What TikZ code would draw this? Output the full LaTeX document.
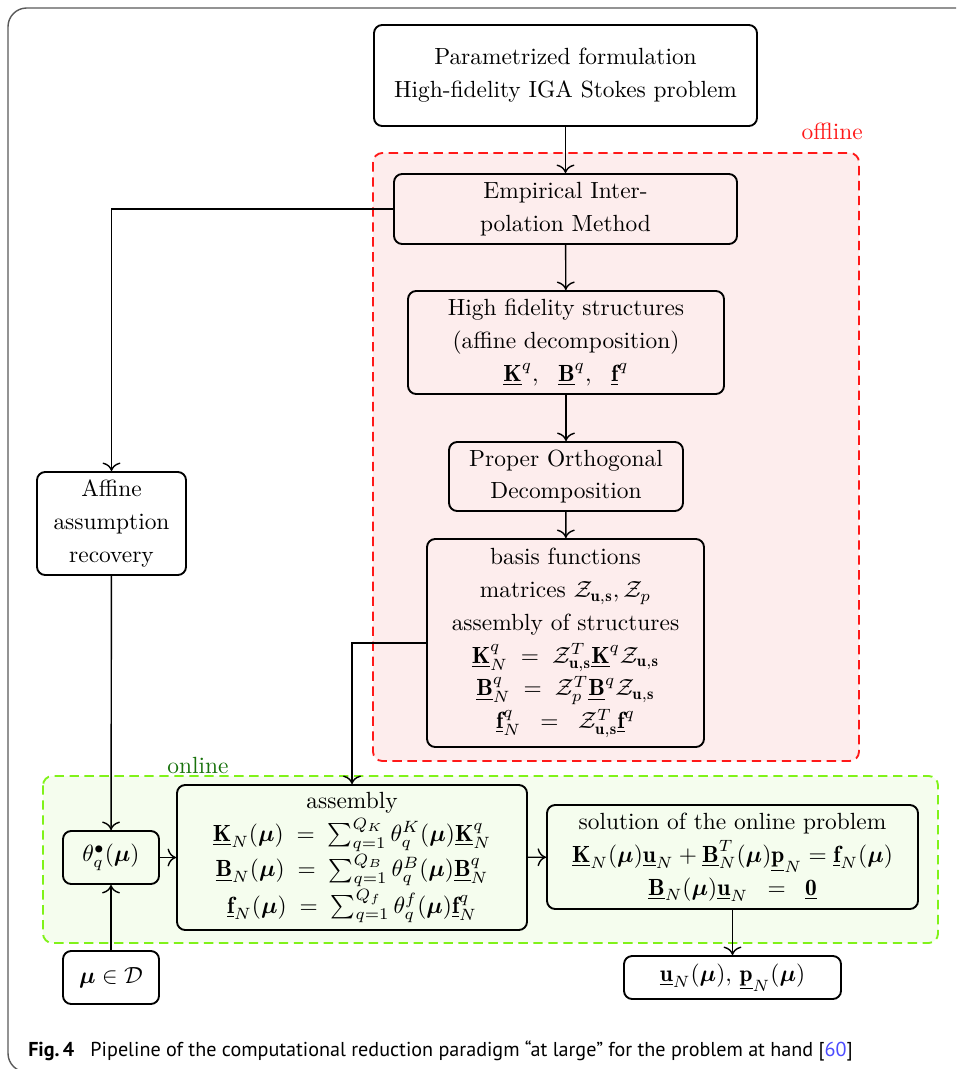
\documentclass[tikz,border=0pt]{standalone}
\usepackage{amsmath}
\usepackage{amssymb}
\usepackage{fontspec}
\newfontfamily\capfont{PT Sans}
\usepackage{tikz}
\usetikzlibrary{calc}
\usetikzlibrary{arrows.meta}

\newcommand{\ubf}[1]{\underline{\mathbf{#1}}}
\newcommand{\bmu}{\boldsymbol{\mu}}
\newcommand{\Zus}{\mathcal{Z}_{\mathbf{u},\mathbf{s}}}
\definecolor{offred}{rgb}{1,0.1,0.1}
\definecolor{offfill}{rgb}{0.992,0.929,0.929}
\definecolor{ongreen}{rgb}{0.5,0.95,0.1}
\definecolor{onfill}{rgb}{0.961,0.992,0.933}
\definecolor{ontext}{rgb}{0.1,0.45,0.05}
\definecolor{reflink}{rgb}{0.3,0.3,1}

\begin{document}
\begin{tikzpicture}[x=0.4274pt,y=-0.4274pt,
	box/.style={draw,thick,rounded corners=3.5pt,align=center,inner sep=2pt,
		font=\fontsize{10}{14}\selectfont},
	boxsize/.style 2 args={minimum width=#1*0.4274pt,minimum height=#2*0.4274pt},
	line/.style={semithick,-{To[scale=1.25]}},
	region/.style={thick,rounded corners=4pt,dash pattern=on 4pt off 2.4pt}]
	\useasboundingbox (0,0) rectangle (956,1069);
	% journal frame
	\draw[black!65,semithick,rounded corners=8pt] (956,8)--(8,8)--(8,1072)--(956,1072);
	% offline / online parts
	\draw[region,draw=offred,fill=offfill] (373,153) rectangle (859,761);
	\node[anchor=east,text=offred] (offlbl) at (871,131) {offline};
	\draw[region,draw=ongreen,fill=onfill] (43,776) rectangle (938,943);
	\node[text=ontext] (onlbl) at (198,766) {online};

	\node[box,boxsize={383}{101}] (hifi) at (565.5,75.5) {Parametrized formulation\\High-fidelity IGA Stokes problem};
	\node[box,boxsize={343}{70}] (eim) at (565.5,209) {Empirical Inter-\\polation Method};
	\node[box,boxsize={316}{103}] (struct) at (566,342.5) {High fidelity structures\\(affine decomposition)\\$\ubf{K}^q,\ \ \ubf{B}^q,\ \ \ubf{f}^q$};
	\node[box,boxsize={234}{69}] (pod) at (566,476.5) {Proper Orthogonal\\Decomposition};
	\node[box,boxsize={277}{208}] (basis) at (565.5,643) {basis functions\\matrices $\Zus,\mathcal{Z}_p$\\assembly of structures\\
		$\ubf{K}_N^q\;=\;\Zus^T\ubf{K}^q\Zus$\\
		$\ubf{B}_N^q\;=\;\mathcal{Z}_p^T\ubf{B}^q\Zus$\\
		$\ubf{f}_N^q\;\;=\;\;\Zus^T\ubf{f}^q$};
	\node[box,boxsize={149}{103}] (affine) at (111.5,523.5) {Affine\\assumption\\recovery};
	\node[box,boxsize={96}{53}] (theta) at (111,857.5) {$\theta_q^\bullet(\bmu)$};
	\node[box,boxsize={96}{53}] (param) at (111,977.5) {$\bmu\in\mathcal{D}$};
	\node[box,boxsize={350}{145}] (assem) at (352,857.5) {assembly\\
		$\ubf{K}_N(\bmu)\;=\;\sum_{q=1}^{Q_K}\theta_q^K(\bmu)\ubf{K}_N^q$\\
		$\ubf{B}_N(\bmu)\;=\;\sum_{q=1}^{Q_B}\theta_q^B(\bmu)\ubf{B}_N^q$\\
		$\ubf{f}_N(\bmu)\;=\;\sum_{q=1}^{Q_f}\theta_q^f(\bmu)\ubf{f}_N^q$};
	\node[box,boxsize={371}{104}] (solve) at (732.5,857) {solution of the online problem\\
		$\ubf{K}_N(\bmu)\ubf{u}_N+\ubf{B}_N^T(\bmu)\ubf{p}_N=\ubf{f}_N(\bmu)$\\
		$\ubf{B}_N(\bmu)\ubf{u}_N\;\;=\;\;\ubf{0}$};
	\node[box,boxsize={217}{43}] (result) at (732.5,977.5) {$\ubf{u}_N(\bmu),\,\ubf{p}_N(\bmu)$};

	\draw[line] (hifi)--(eim);
	\draw[line] (eim)--(struct);
	\draw[line] (struct)--(pod);
	\draw[line] (pod)--(basis);
	\draw[line] (eim.west)-|(affine.north);
	\draw[line] (affine)--(theta);
	\draw[line] (param)--(theta);
	\draw[line] (basis.west)-|(assem.north);
	\draw[line] (theta)--(assem);
	\draw[line] (assem)--(solve);
	\draw[line] (solve)--(result);

	\node[anchor=west,font=\capfont\fontsize{8.6}{10}\selectfont] (caption) at (20,1051)
		{\textbf{Fig.\,4}\hspace{0.8em}Pipeline of the computational reduction paradigm “at large” for the problem at hand [\textcolor{reflink}{60}]};
\end{tikzpicture}
\end{document}
